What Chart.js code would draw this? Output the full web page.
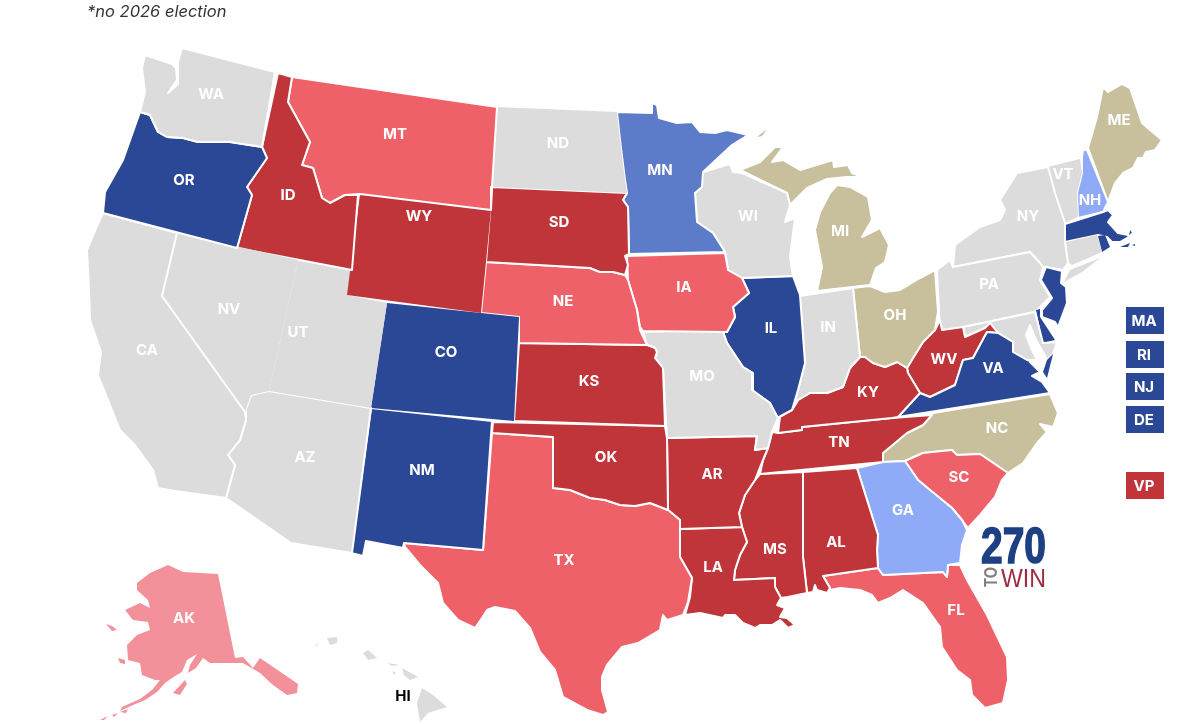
<!DOCTYPE html>
<html>
<head>
<meta charset="utf-8">
<script src="https://cdn.jsdelivr.net/npm/chart.js@4/dist/chart.umd.min.js"></script>
<style>
html,body{margin:0;padding:0;background:#fff;overflow:hidden}
canvas{display:block}
</style>
</head>
<body>
<canvas id="myChart" width="1200" height="724"></canvas>
<script>
// state outlines (map units, flat x,y lists, one list per ring)
const WA=[[145,55,160,60,172,64,176,68,177,80,168,93,178,84,178,62,182,48,275,72,262,147,230,142,198,142,183,138,167,137,158,132,150,115,140,112,145,92,142,68]];
const OR=[[140,112,150,115,158,132,167,137,183,138,198,142,230,142,262,147,267,158,247,187,252,195,237,248,103,213,105,192,123,160]];
const CA=[[103,213,177,233,162,296,245,412,246,420,240,440,228,455,235,465,226,498,175,491,158,488,153,470,135,445,120,430,108,400,98,375,101,352,90,320,89,290,87,250,96,228]];
const NV=[[177,233,298,260,269,391,251,395,245,412,162,296]];
const ID=[[278,73,292,77,288,102,310,142,302,165,313,168,322,198,330,203,345,195,358,195,352,270,237,248,252,195,247,187,267,158,262,147]];
const MT=[[292,77,497,107,492,187,491,210,360,194,345,195,330,203,322,198,313,168,302,165,310,142,288,102]];
const WY=[[360,194,491,210,486,262,481,313,347,295]];
const UT=[[298,260,352,270,347,295,387,303,371,408,269,391]];
const AZ=[[269,391,371,408,352,553,291,543,226,498,235,465,228,455,240,440,246,420,245,412,251,395]];
const CO=[[387,303,519,317,514,421,371,408]];
const NM=[[371,408,492,421,483,550,404,543,403,548,366,541,363,556,351,553]];
const ND=[[497,107,617,112,620,140,625,180,627,193,492,187]];
const SD=[[492,187,627,193,623,200,628,207,629,254,625,256,628,265,625,275,613,272,600,272,590,268,486,262]];
const NE=[[486,262,590,268,600,272,613,272,625,275,628,280,637,310,640,330,647,345,519,343,519,317,481,313]];
const KS=[[519,343,647,345,655,348,657,352,655,358,663,368,665,426,514,421]];
const OK=[[493,422,665,426,667,438,668,510,650,503,635,506,620,505,605,500,590,498,570,490,553,488,553,437,492,433]];
const TX=[[492,433,553,437,553,488,570,490,590,498,605,500,620,505,635,506,650,503,668,510,680,520,680,529,680,557,692,578,688,602,683,615,667,620,663,615,660,630,638,643,622,647,607,665,602,677,602,690,608,712,603,715,587,710,563,697,555,670,540,652,530,628,515,611,495,607,487,610,482,618,475,628,458,620,443,603,438,583,420,565,405,547,404,543,483,550]];
const MN=[[617,112,652,113,652,103,657,105,659,118,677,123,692,122,700,132,715,133,727,130,748,135,732,145,703,172,702,187,695,193,697,222,713,233,725,252,629,254,628,207,623,200,627,193,625,180,620,140]];
const IA=[[627,256,725,253,728,270,742,278,749,293,733,307,735,317,727,332,643,331,640,327,637,310,628,280]];
const MO=[[643,332,722,329,727,343,743,367,753,373,752,390,770,403,778,418,772,432,768,448,755,450,757,436,667,438,663,368,655,358,657,352,655,348,647,345]];
const AR=[[667,438,757,436,755,450,768,448,763,460,755,480,745,495,739,513,742,527,680,529,680,520,668,510]];
const LA=[[680,529,742,527,747,542,740,555,735,570,734,580,775,578,775,587,781,598,777,605,785,608,788,603,780,617,787,618,795,625,788,628,780,620,772,625,760,625,755,628,743,623,735,615,725,615,723,618,700,613,685,615,690,597,692,578,680,557]];
const WI=[[703,172,730,164,733,172,742,173,787,193,790,205,785,222,795,218,790,257,793,276,742,278,728,270,725,252,713,233,697,222,695,193]];
const IL=[[742,278,793,276,800,295,805,363,798,390,792,410,777,418,770,403,752,390,753,373,743,367,727,343,722,329,727,332,735,317,733,307,749,293]];
const MI=[[740,170,760,162,775,147,783,147,772,162,783,160,800,170,833,160,834,167,848,165,852,173,862,177,847,177,827,179,807,188,790,205,787,193],[830,193,837,185,850,187,868,197,872,220,862,237,872,232,880,228,889,245,885,262,876,268,870,285,817,291,822,267,815,230,820,212],[757,137,767,129,762,136]];
const IN=[[800,296,853,288,860,357,850,368,843,387,827,393,810,393,798,400,792,410,798,390,805,363]];
const OH=[[853,288,870,286,885,292,900,290,920,278,935,270,938,312,935,330,923,342,913,358,907,368,897,362,885,367,873,363,865,357,860,357]];
const KY=[[860,357,865,357,873,363,885,367,897,362,907,368,908,373,920,393,898,417,892,418,802,427,802,430,778,433,780,417,792,410,798,400,810,393,827,393,843,387,850,368]];
const TN=[[778,433,802,430,802,427,892,418,932,415,923,425,907,433,883,453,883,462,760,474,763,460,768,448,772,432]];
const MS=[[760,474,803,472,803,557,807,593,788,597,781,598,775,587,775,578,734,580,735,570,740,555,747,542,742,527,739,513,745,495,755,480]];
const AL=[[803,472,857,468,878,535,877,550,878,568,823,576,830,588,827,593,817,590,815,585,813,592,807,593,803,557]];
const GA=[[857,468,883,462,905,461,918,480,930,490,952,508,962,520,967,530,962,545,960,563,948,565,947,577,943,572,883,575,878,568,877,550,878,535]];
const FL=[[823,576,878,568,883,575,943,572,947,577,948,565,960,565,967,580,987,615,1007,657,1008,680,1003,703,985,708,972,695,970,680,957,670,942,647,940,627,923,603,903,590,890,598,878,603,872,595,860,590,840,588,830,590,830,588]];
const SC=[[905,461,923,453,952,450,957,455,980,454,1008,473,1002,480,995,497,980,515,968,528,962,520,952,508,930,490,918,480]];
const NC=[[933,413,1050,394,1058,413,1053,427,1040,424,1047,432,1037,443,1023,463,1008,473,980,454,957,455,952,450,923,453,905,461,883,462,883,453,907,433,923,425]];
const VA=[[898,417,920,393,930,397,955,385,963,360,973,358,987,332,998,333,1013,342,1013,352,1027,360,1037,363,1030,362,1040,372,1032,376,1042,382,1050,393],[1047,360,1053,354,1047,378,1043,372]];
const WV=[[940,320,942,330,963,327,965,337,985,328,990,323,998,333,987,332,973,358,963,360,955,385,930,397,920,393,908,373,907,368,913,358,923,342,935,330]];
const MD=[[963,327,1035,312,1043,343,1057,342,1053,354,1047,360,1043,352,1036,340,1030,325,1026,335,1031,348,1037,360,1027,360,1013,352,1013,342,998,333,990,323,985,328,965,337]];
const DE=[[1036,310,1040,309,1040,317,1055,340,1043,343]];
const PA=[[937,270,950,260,953,267,1030,252,1040,263,1043,267,1040,280,1050,297,1035,312,940,332]];
const NJ=[[1046,267,1062,271,1061,283,1066,287,1067,303,1058,327,1055,322,1042,317,1042,310,1052,298,1041,280]];
const NY=[[953,267,955,245,980,227,1000,220,1005,210,1000,200,1017,173,1048,167,1055,193,1065,223,1065,242,1068,263,1063,270,1046,267,1043,267,1040,263,1030,252],[1064,282,1070,270,1100,258,1082,272]];
const CT=[[1066,242,1097,235,1102,252,1072,265,1068,262]];
const RI=[[1098,236,1105,235,1110,247,1102,252]];
const MA=[[1065,224,1103,212,1108,210,1113,215,1108,222,1118,233,1128,235,1130,227,1133,233,1127,238,1120,242,1112,242,1107,237,1098,235,1065,242],[1120,247,1130,243,1128,247],[1132,245,1135,244,1135,246]];
const VT=[[1048,167,1080,159,1082,173,1077,193,1078,217,1065,223,1055,193]];
const NH=[[1083,150,1087,150,1108,202,1103,212,1078,218,1077,193,1082,173,1082,157]];
const ME=[[1088,148,1097,117,1103,87,1108,92,1122,84,1130,88,1142,123,1150,130,1162,140,1155,150,1146,152,1143,158,1138,158,1133,168,1123,173,1115,183,1108,202]];
const AK=[[137,583,150,573,168,565,183,572,218,574,235,658,243,657,253,668,260,658,298,684,297,693,287,695,273,685,260,673,243,663,223,663,210,663,203,658,196,668,188,673,190,665,197,654,187,660,182,672,175,676,165,683,157,692,145,700,133,705,120,711,122,707,140,699,152,690,160,680,155,680,142,675,140,663,128,660,127,645,137,635,150,630,148,622,133,620,125,610,140,603,150,608,148,600,137,590],[173,693,185,680,187,684,180,695],[118,658,125,660,125,664,120,663],[106,624,112,626,117,630,112,631],[120,712,128,709,126,713],[112,715,118,713,114,717],[100,720,108,716,104,720]];
const HI=[[422,688,433,695,447,707,428,713,420,722,417,703],[402,668,418,677,410,680,404,675],[387,663,400,665,392,666],[393,671,396,673,393,675],[363,653,368,650,377,658,368,660],[327,638,337,637,337,643,330,645],[315,646,318,643,317,646]];

const states=[WA,OR,CA,NV,ID,MT,WY,UT,AZ,CO,NM,ND,SD,NE,KS,OK,TX,MN,IA,MO,AR,LA,WI,IL,MI,IN,OH,KY,TN,MS,AL,GA,FL,SC,NC,VA,WV,MD,DE,PA,NJ,NY,CT,RI,MA,VT,NH,ME,AK,HI];
const ratings=['none','safeD','none','none','safeR','leanR','safeR','none','none','safeD','safeD','none','safeR','leanR','safeR','safeR','leanR','likelyD','leanR','none','safeR','safeR','none','safeD','toss','none','toss','safeR','safeR','safeR','safeR','tiltD','leanR','leanR','toss','safeD','safeR','none','safeD','none','safeD','none','none','safeD','safeD','none','tiltD','toss','likelyR','none'];
const ratingColors={none:'#dcdcdc',safeD:'#2b4896',likelyD:'#5c7bc9',tiltD:'#8fabf8',toss:'#c8bf9c',leanR:'#ee6169',likelyR:'#f29199',safeR:'#c03539'};

// where the state codes sit
const labelCodes=['WA','OR','CA','NV','UT','ID','MT','WY','CO','NM','AZ','ND','SD','NE','KS','OK','TX','MN','IA','MO','AR','LA','WI','IL','IN','MI','OH','KY','TN','MS','AL','GA','FL','SC','NC','VA','WV','PA','NY','VT','NH','ME','AK','HI'];
const labelX=[211,184,147,229,298,288,395,419,446,422,305,558,559,563,589,606,564,660,684,702,712,713,748,771,828,840,895,868,839,775,836,903,956,959,997,993,944,989,1028,1063,1090,1119,184,403];
const labelY=[94,180,350,309,332,195,134,216,352,470,457,143,222,301,381,457,560,170,287,376,474,567,216,328,327,231,315,392,442,549,542,510,610,477,428,368,359,284,216,174,200,120,618,696];

// boxes on the right hand side
const sideCodes=['MA','RI','NJ','DE','VP'];
const sideColors=['#2b4896','#2b4896','#2b4896','#2b4896','#c03539'];
const sideTop=[307,341,373,406,472];

const datasets=[];
function addRing(flat,color,width){
  const pts=[];
  for(let i=0;i<flat.length;i+=2) pts.push({x:flat[i],y:flat[i+1]});
  pts.push({x:flat[0],y:flat[1]});
  datasets.push({data:pts,showLine:true,fill:'shape',tension:0,pointRadius:0,
    backgroundColor:color,borderColor:width?'#fff':color,borderWidth:width,borderJoinStyle:'round',clip:false});
}
states.forEach((rings,i)=>rings.forEach(r=>{
  // small islands and thin coasts would vanish under a full white line
  let w=r.length<16?0:2;
  if(states[i]===AK||states[i]===HI) w=0;
  addRing(r,ratingColors[ratings[i]],w);
}));
sideTop.forEach((t,i)=>addRing([1126,t,1164,t,1164,t+27,1126,t+27],sideColors[i],0));

const textPlugin={
  id:'mapText',
  afterDatasetsDraw(chart){
    const c=chart.ctx,sx=chart.scales.x,sy=chart.scales.y;
    c.save();
    c.textAlign='center';c.textBaseline='middle';
    c.font='700 15px Inter';
    labelCodes.forEach((s,i)=>{
      c.fillStyle=s==='HI'?'#000':'#fff';
      c.fillText(s,sx.getPixelForValue(labelX[i]),sy.getPixelForValue(labelY[i]));
    });
    c.fillStyle='#fff';
    sideCodes.forEach((s,i)=>c.fillText(s,sx.getPixelForValue(1144),sy.getPixelForValue(sideTop[i]+14)));
    // note
    c.textAlign='left';c.fillStyle='#333';c.font='italic 16.5px Inter';
    c.fillText('*no 2026 election',87,12);
    // logo
    c.textBaseline='alphabetic';
    c.fillStyle='#1d3f83';c.strokeStyle='#1d3f83';c.lineWidth=1.5;
    c.font='bold 50px "Liberation Sans"';
    c.fillText('270',981,563,65);
    c.strokeText('270',981,563,65);
    c.fillStyle='#9e2b3e';c.font='26px "Liberation Sans"';
    c.fillText('WIN',1001,587,45);
    c.save();
    c.translate(997,587);c.rotate(-Math.PI/2);
    c.fillStyle='#808080';c.font='bold 18px "Liberation Sans"';
    c.fillText('TO',0,0,20);
    c.restore();
    c.restore();
  }
};

new Chart(document.getElementById('myChart').getContext('2d'),{
  type:'scatter',
  data:{datasets},
  options:{
    responsive:false,animation:false,
    layout:{padding:0},
    plugins:{legend:{display:false},tooltip:{enabled:false}},
    scales:{
      x:{type:'linear',min:0,max:1200,display:false},
      y:{type:'linear',min:0,max:724,reverse:true,display:false}
    }
  },
  plugins:[textPlugin]
});
</script>
</body>
</html>
